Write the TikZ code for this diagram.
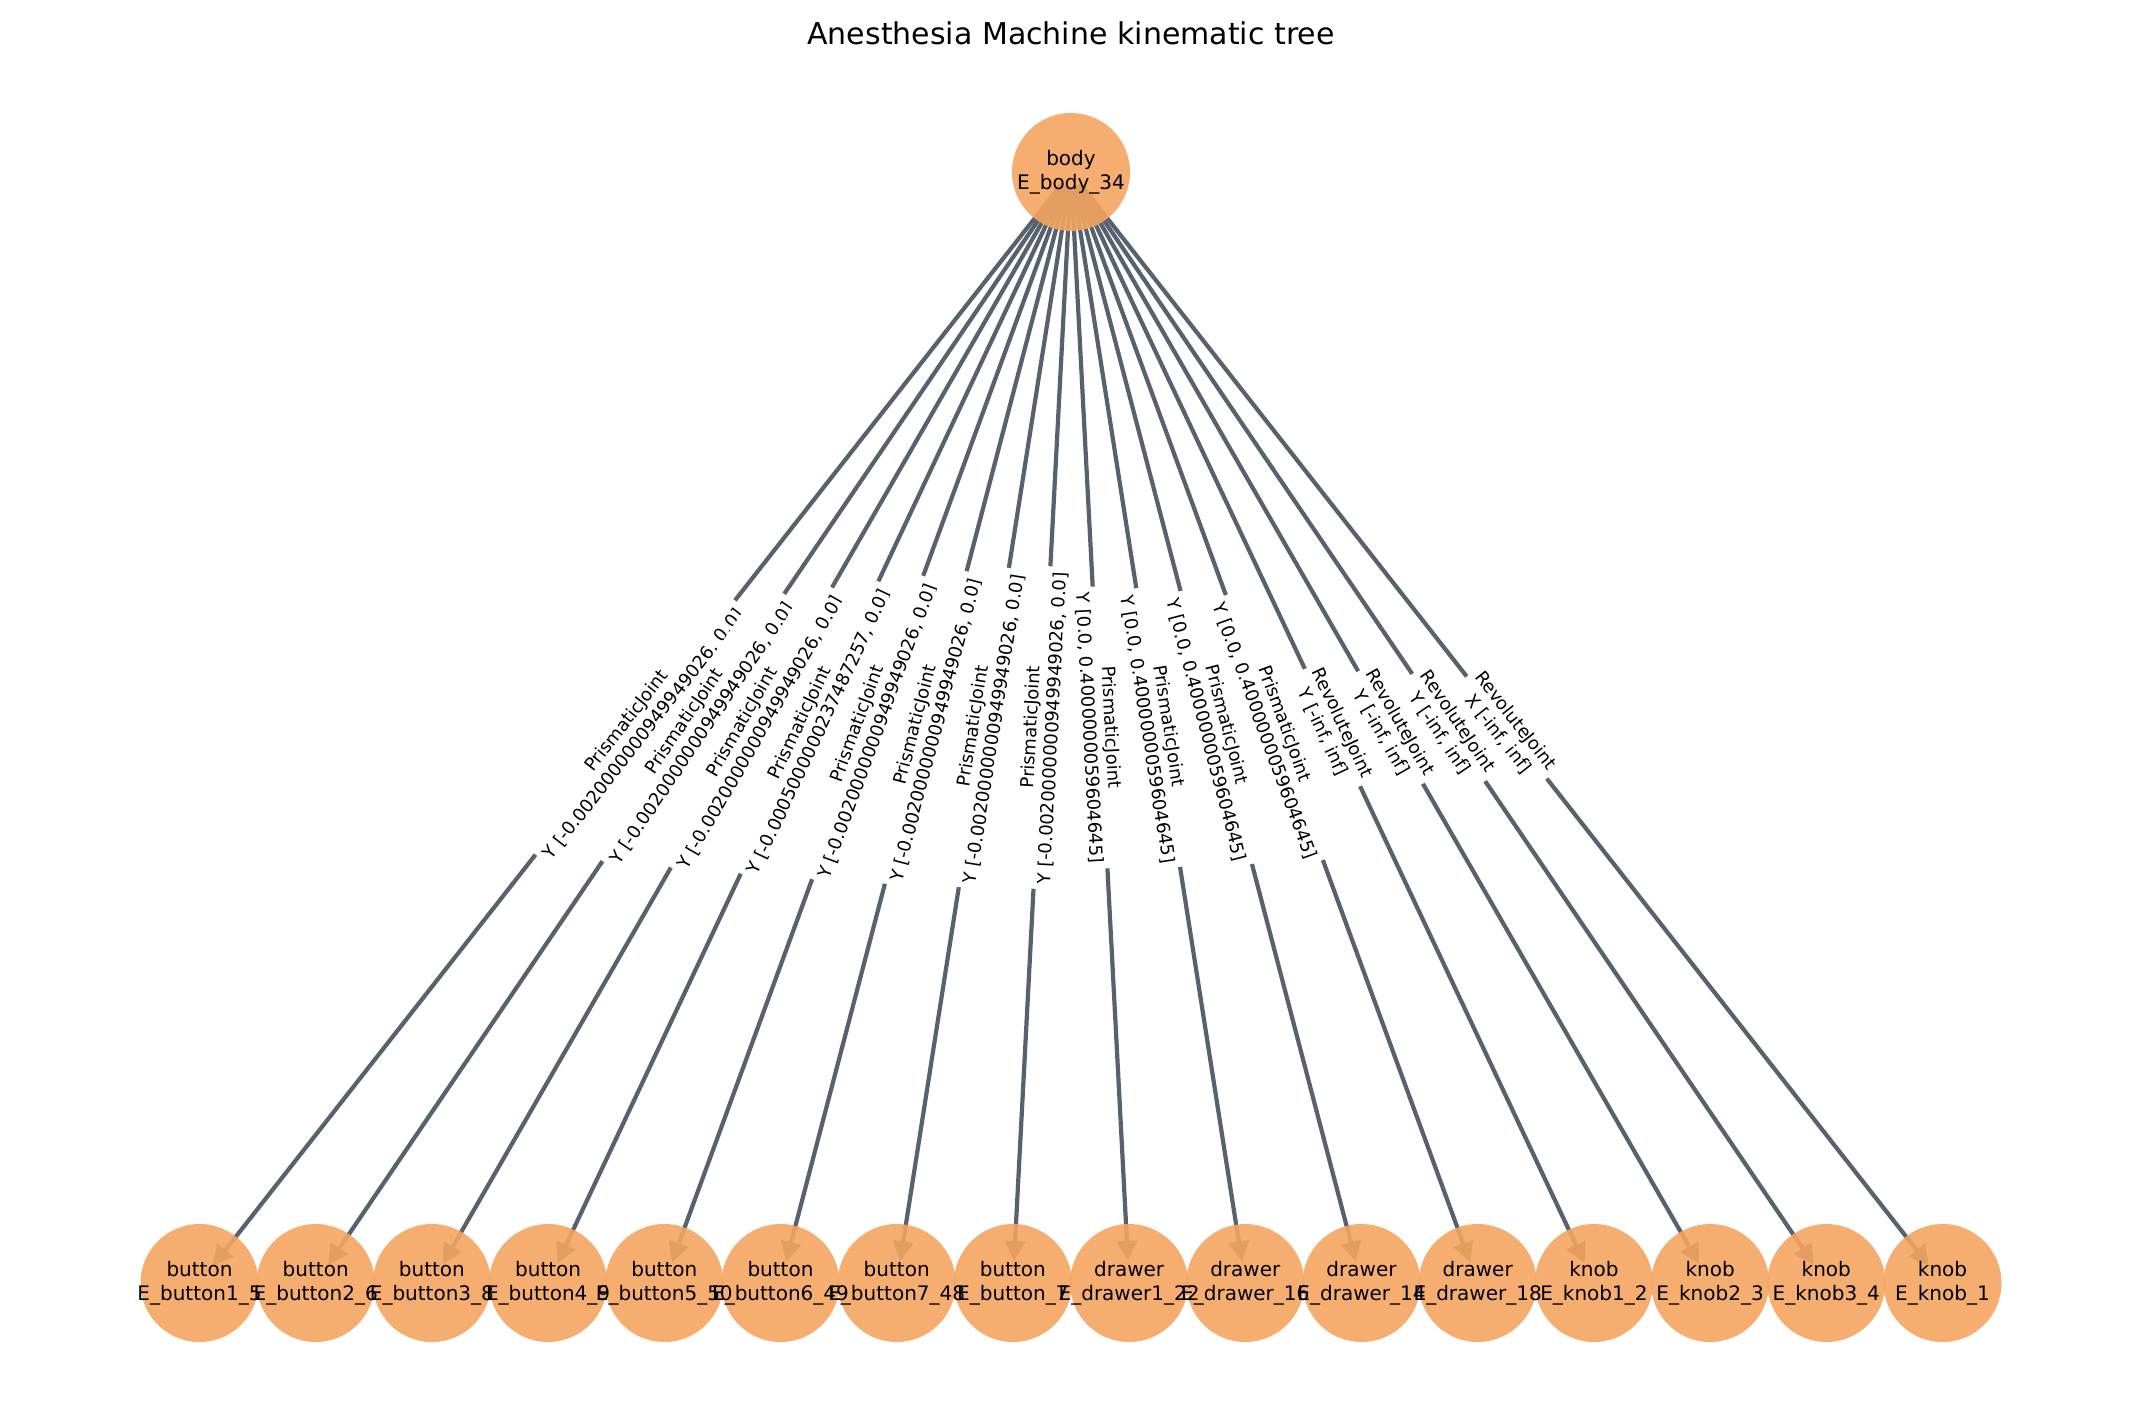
\documentclass[tikz,border=0pt]{standalone}
\usepackage{fontspec}
\setmainfont{DejaVu Sans}
\usetikzlibrary{arrows.meta}
\definecolor{edgecol}{HTML}{58626F}
\definecolor{nodecol}{HTML}{F4A460}
\pgfdeclarelayer{edgelayer}
\pgfdeclarelayer{disklayer}
\pgfsetlayers{edgelayer,disklayer,main}
\tikzset{
  tnode/.style={circle, minimum size=59pt, inner sep=0pt, align=center, text=black,
    font=\fontsize{10}{12}\selectfont},
  disk/.style={fill=nodecol, fill opacity=0.9},
  edge/.style={draw=edgecol, line width=2.1pt, shorten >=11pt, shorten <=7.5pt,
    -{Triangle[length=10pt,width=10pt]}},
  elabel/.style={midway, sloped, fill=white, inner sep=2.7pt, rounded corners=2pt,
    align=center, text=black, font=\fontsize{9}{10.8}\selectfont},
}
\begin{document}
\begin{tikzpicture}[x=0.5pt, y=-0.5pt]
\useasboundingbox (0,0) rectangle (2141,1419);
\node[anchor=base, font=\fontsize{15}{18}\selectfont] (title) at (1071,44) {Anesthesia Machine kinematic tree};

\node[tnode] (body) at (1071,172) {body\\E\_body\_34};
\node[tnode] (n1) at (199.5,1283) {button\\E\_button1\_5};
\node[tnode] (n2) at (315.7,1283) {button\\E\_button2\_6};
\node[tnode] (n3) at (431.9,1283) {button\\E\_button3\_8};
\node[tnode] (n4) at (548.1,1283) {button\\E\_button4\_9};
\node[tnode] (n5) at (664.3,1283) {button\\E\_button5\_50};
\node[tnode] (n6) at (780.5,1283) {button\\E\_button6\_49};
\node[tnode] (n7) at (896.7,1283) {button\\E\_button7\_48};
\node[tnode] (n8) at (1012.9,1283) {button\\E\_button\_7};
\node[tnode] (n9) at (1129.1,1283) {drawer\\E\_drawer1\_22};
\node[tnode] (n10) at (1245.3,1283) {drawer\\E\_drawer\_16};
\node[tnode] (n11) at (1361.5,1283) {drawer\\E\_drawer\_14};
\node[tnode] (n12) at (1477.7,1283) {drawer\\E\_drawer\_18};
\node[tnode] (n13) at (1593.9,1283) {knob\\E\_knob1\_2};
\node[tnode] (n14) at (1710.1,1283) {knob\\E\_knob2\_3};
\node[tnode] (n15) at (1826.3,1283) {knob\\E\_knob3\_4};
\node[tnode] (n16) at (1942.5,1283) {knob\\E\_knob\_1};

\begin{pgfonlayer}{disklayer}
\foreach \n in {body,n1,n2,n3,n4,n5,n6,n7,n8,n9,n10,n11,n12,n13,n14,n15,n16}
  \fill[disk] (\n.center) circle (29.5pt);
\end{pgfonlayer}

\begin{pgfonlayer}{edgelayer}
\foreach \n in {n1,n2,n3,n4,n5,n6,n7,n8,n9,n10,n11,n12,n13,n14,n15,n16}
  \draw[edge] (body.center) -- (\n.center);
\end{pgfonlayer}

\path (body.center) -- (n1.center) node[elabel] {PrismaticJoint\\Y [-0.0020000000949949026, 0.0]};
\path (body.center) -- (n2.center) node[elabel] {PrismaticJoint\\Y [-0.0020000000949949026, 0.0]};
\path (body.center) -- (n3.center) node[elabel] {PrismaticJoint\\Y [-0.0020000000949949026, 0.0]};
\path (body.center) -- (n4.center) node[elabel] {PrismaticJoint\\Y [-0.0005000000237487257, 0.0]};
\path (body.center) -- (n5.center) node[elabel] {PrismaticJoint\\Y [-0.0020000000949949026, 0.0]};
\path (body.center) -- (n6.center) node[elabel] {PrismaticJoint\\Y [-0.0020000000949949026, 0.0]};
\path (body.center) -- (n7.center) node[elabel] {PrismaticJoint\\Y [-0.0020000000949949026, 0.0]};
\path (body.center) -- (n8.center) node[elabel] {PrismaticJoint\\Y [-0.0020000000949949026, 0.0]};
\path (body.center) -- (n9.center) node[elabel] {PrismaticJoint\\Y [0.0, 0.4000000059604645]};
\path (body.center) -- (n10.center) node[elabel] {PrismaticJoint\\Y [0.0, 0.4000000059604645]};
\path (body.center) -- (n11.center) node[elabel] {PrismaticJoint\\Y [0.0, 0.4000000059604645]};
\path (body.center) -- (n12.center) node[elabel] {PrismaticJoint\\Y [0.0, 0.4000000059604645]};
\path (body.center) -- (n13.center) node[elabel] {RevoluteJoint\\Y [-inf, inf]};
\path (body.center) -- (n14.center) node[elabel] {RevoluteJoint\\Y [-inf, inf]};
\path (body.center) -- (n15.center) node[elabel] {RevoluteJoint\\Y [-inf, inf]};
\path (body.center) -- (n16.center) node[elabel] {RevoluteJoint\\X [-inf, inf]};
\end{tikzpicture}
\end{document}
